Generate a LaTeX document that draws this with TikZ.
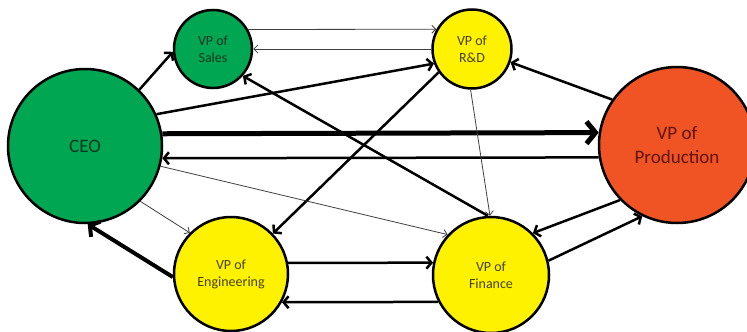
\documentclass[tikz,border=0pt]{standalone}
\usepackage{fontspec}
\setmainfont{Carlito}
\usetikzlibrary{arrows.meta}
\definecolor{ceogreen}{RGB}{0,166,81}
\definecolor{vpyellow}{RGB}{255,242,0}
\definecolor{vporange}{RGB}{241,84,36}
\definecolor{greentext}{RGB}{10,55,30}
\definecolor{yellowtext}{RGB}{70,66,0}
\definecolor{orangetext}{RGB}{95,20,8}

\begin{document}
\begin{tikzpicture}[x=1pt, y=-1pt,
  vp/.style={circle, draw=black, line width=2.5pt, inner sep=0pt, align=center},
  vpsmall/.style={vp, font=\fontsize{14}{17}\selectfont},
  vpbig/.style={vp, font=\fontsize{19}{24}\selectfont},
  weak/.style={line width=0.8pt, draw=black!75, -{Straight Barb[length=4pt,width=8pt]}},
  link/.style={line width=2.5pt, -{Straight Barb[length=5pt,width=12pt]}},
  heavy/.style={line width=4pt, -{Straight Barb[length=7pt,width=18pt]}},
  strong/.style={line width=5pt, -{Straight Barb[length=9pt,width=22pt]}}]
  \useasboundingbox (0,0) rectangle (747,332);
  % people
  \node[vpbig, fill=ceogreen, text=greentext, minimum size=154pt] (ceo) at (85,146) {CEO};
  \node[vpsmall, fill=ceogreen, text=greentext, minimum size=78pt] (sales) at (213,49) {VP of\\Sales};
  \node[vpsmall, fill=vpyellow, text=yellowtext, minimum size=79pt] (rd) at (472,49) {VP of\\R\&D};
  \node[vpbig, fill=vporange, text=orangetext, minimum size=156pt] (prod) at (677,145) {VP of\\Production};
  \node[vpsmall, fill=vpyellow, text=yellowtext, minimum size=114pt] (eng) at (231,274) {VP of\\Engineering};
  \node[vpsmall, fill=vpyellow, text=yellowtext, minimum size=116pt] (fin) at (491,275) {VP of\\Finance};
  % links
  \draw[link] (ceo.46) -- (sales.184);
  \draw[weak] (sales.29) -- (rd.151);
  \draw[weak] (rd.west) -- (sales.east);
  \draw[link] (ceo.24) -- (rd.201);
  \draw[strong] (ceo.9.7) -- (prod.171);
  \draw[link] (prod.189.6) -- (ceo.-9);
  \draw[link] (prod.145) -- (rd.-19);
  \draw[link] (fin.93) -- (sales.-42);
  \draw[link] (rd.215) -- (eng.44);
  \draw[weak] (ceo.-15) -- (fin.137);
  \draw[weak] (ceo.-45.5) -- (eng.135);
  \draw[weak] (rd.-92) -- (fin.91);
  \draw[heavy] (eng.183) -- (ceo.-88);
  \draw[link] (eng.11) -- (fin.168);
  \draw[link] (fin.207.7) -- (eng.-29.4);
  \draw[link] (prod.224) -- (fin.45.7);
  \draw[link] (fin.14.3) -- (prod.244);
\end{tikzpicture}
\end{document}
